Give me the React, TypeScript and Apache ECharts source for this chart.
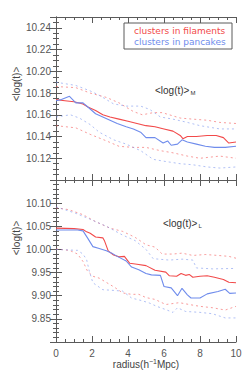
import React, { useEffect, useRef } from "react";
import * as echarts from "echarts";

// ---- data ----
const xTicks = [0, 2, 4, 6, 8, 10];

const topRedMean = [[0,10.174],[0.5,10.173],[1,10.172],[1.5,10.170],[1.8,10.167],[2.2,10.164],[2.6,10.160],[3,10.158],[3.5,10.156],[4,10.154],[4.5,10.152],[5,10.150],[5.5,10.149],[6,10.147],[6.5,10.145],[6.9,10.141],[7.05,10.138],[7.3,10.140],[7.8,10.140],[8.4,10.141],[8.9,10.141],[9.3,10.139],[9.6,10.134],[10,10.135]];
const topBlueMean = [[0,10.173],[0.3,10.174],[0.75,10.177],[1.1,10.171],[1.5,10.171],[1.85,10.166],[2.2,10.161],[2.6,10.158],[3,10.155],[3.4,10.152],[3.9,10.149],[4.3,10.147],[4.7,10.144],[5,10.139],[5.5,10.139],[5.95,10.134],[6.2,10.136],[6.4,10.132],[6.75,10.133],[7.0,10.137],[7.3,10.135],[7.8,10.133],[8.3,10.131],[8.8,10.130],[9.4,10.130],[10,10.131]];
const topRedUpper = [[0,10.186],[1.1,10.185],[1.9,10.180],[2.8,10.176],[3.5,10.171],[4.3,10.163],[4.8,10.160],[5.4,10.162],[5.9,10.162],[6.9,10.157],[7.6,10.156],[8.4,10.155],[9.1,10.153],[10,10.152]];
const topBlueUpper = [[0,10.190],[1.1,10.187],[1.9,10.182],[2.4,10.178],[3.2,10.170],[3.9,10.168],[4.7,10.168],[5.2,10.165],[5.8,10.158],[6.5,10.156],[7.3,10.153],[8,10.150],[9.1,10.147],[10,10.147]];
const topRedLower = [[0,10.150],[1.1,10.148],[1.9,10.142],[2.8,10.136],[3.5,10.131],[4.3,10.130],[5,10.130],[5.8,10.127],[6.5,10.125],[7.3,10.122],[8,10.120],[9.1,10.122],[10,10.120]];
const topBlueLower = [[0,10.158],[0.8,10.160],[1.3,10.157],[1.9,10.151],[2.4,10.144],[3.2,10.137],[3.9,10.133],[4.7,10.127],[5.4,10.119],[6.1,10.117],[6.9,10.115],[7.6,10.114],[8.4,10.112],[9.1,10.111],[10,10.112]];

const botRedMean = [[0,10.046],[1,10.045],[1.5,10.043],[1.7,10.038],[1.9,10.035],[2.2,10.027],[2.6,10.025],[2.7,10.018],[2.9,9.997],[3.2,9.988],[3.5,9.984],[3.8,9.985],[4.1,9.970],[4.5,9.968],[5,9.965],[5.5,9.955],[6.1,9.951],[6.3,9.943],[6.7,9.942],[6.95,9.948],[7.2,9.944],[7.4,9.946],[7.6,9.940],[8,9.942],[8.4,9.943],[8.8,9.940],[9.3,9.935],[9.6,9.929],[10,9.928]];
const botBlueMean = [[0,10.042],[1.2,10.042],[1.5,10.040],[1.75,10.025],[2.05,10.006],[2.4,10.002],[2.8,9.997],[3.1,9.992],[3.4,9.985],[3.9,9.975],[4.2,9.962],[4.6,9.956],[5,9.948],[5.3,9.945],[5.8,9.944],[6,9.920],[6.4,9.917],[6.75,9.900],[7.0,9.916],[7.3,9.902],[7.5,9.895],[8,9.895],[8.4,9.904],[9,9.909],[9.4,9.914],[9.65,9.905],[10,9.906]];
const botRedUpper = [[0,10.090],[0.7,10.086],[1.5,10.075],[2.2,10.060],[3,10.046],[3.7,10.039],[4.4,10.026],[5,10.010],[5.5,10.005],[5.9,9.990],[6.5,9.990],[7,9.992],[7.6,9.987],[8.3,9.989],[9,9.987],[9.6,9.985],[10,9.981]];
const botBlueUpper = [[0,10.092],[1.1,10.078],[1.85,10.066],[2.8,10.050],[3.7,10.031],[4.4,10.019],[5,10.000],[5.4,9.980],[6.3,9.977],[7,9.979],[7.6,9.977],[7.8,9.960],[8.7,9.958],[10,9.959]];
const botRedLower = [[0,10.001],[0.75,9.998],[1.2,9.990],[1.5,9.974],[1.75,9.953],[2.05,9.942],[2.4,9.938],[3,9.924],[3.3,9.917],[3.7,9.906],[4.2,9.903],[4.6,9.903],[5,9.896],[5.5,9.892],[6.1,9.881],[6.85,9.885],[7.4,9.881],[8,9.877],[8.7,9.874],[9.4,9.869],[10,9.877]];
const botBlueLower = [[0,10.000],[1.2,9.998],[1.5,9.990],[1.7,9.978],[1.85,9.953],[2.05,9.928],[2.6,9.913],[3,9.912],[3.7,9.910],[4.2,9.895],[4.8,9.889],[5.2,9.884],[5.6,9.877],[6.1,9.870],[6.5,9.864],[6.75,9.874],[7.2,9.866],[8,9.864],[8.7,9.861],[9.4,9.852],[10,9.852]];

const legendLabels = ["clusters in filaments", "clusters in pancakes"];

const RED = "#f24a4a";
const BLUE = "#6f8cec";
const AX = "#5a5a5a";
const FONT = "Liberation Sans";
const WIDE = "DejaVu Sans";

function xAxis(gridIndex: number, labels: boolean) {
  return {
    type: "value", gridIndex, min: 0, max: 10, interval: xTicks[1] - xTicks[0],
    position: "bottom",
    axisLine: { show: true, lineStyle: { color: AX, width: 1 } },
    axisTick: { show: true, inside: true, length: 6, lineStyle: { color: AX } },
    minorTick: { show: true, splitNumber: 4, length: 3, lineStyle: { color: AX } },
    axisLabel: { show: labels, color: "#555", fontSize: 10, fontFamily: FONT, margin: 6 },
    splitLine: { show: false },
  };
}
function xAxisTop(gridIndex: number) {
  return { ...xAxis(gridIndex, false), position: "top" };
}
function yAxis(gridIndex: number, min: number, max: number, interval: number, minor: number, right: boolean) {
  return {
    type: "value", gridIndex, min, max, interval,
    position: right ? "right" : "left",
    axisLine: { show: true, lineStyle: { color: AX, width: 1 } },
    axisTick: { show: true, inside: true, length: 6, lineStyle: { color: AX } },
    minorTick: { show: true, splitNumber: minor, length: 3, lineStyle: { color: AX } },
    axisLabel: {
      show: !right, color: "#555", fontSize: 10, fontFamily: FONT, margin: 5,
      showMinLabel: false, showMaxLabel: false,
      formatter: (v: number) => v.toFixed(2),
    },
    splitLine: { show: false },
  };
}

function line(data: number[][], color: string, dotted: boolean, xi: number, yi: number) {
  return {
    type: "line", data, xAxisIndex: xi, yAxisIndex: yi, showSymbol: false, symbol: "none",
    lineStyle: dotted
      ? { color, width: 1, type: [2, 3], opacity: 0.55 }
      : { color, width: 1.1 },
    z: dotted ? 2 : 3,
  };
}

export default function App() {
  const ref = useRef<HTMLDivElement>(null);
  useEffect(() => {
    const chart = echarts.init(ref.current!, null, { renderer: "svg" });
    chart.setOption({
      animation: false,
      backgroundColor: "#fff",
      grid: [
        { left: 56, top: 17, width: 180, height: 163 },
        { left: 56, top: 180, width: 180, height: 162 },
      ],
      xAxis: [xAxis(0, false), xAxisTop(0), xAxis(1, true), xAxisTop(1)],
      yAxis: [
        yAxis(0, 10.1, 10.25, 0.02, 4, false),
        yAxis(0, 10.1, 10.25, 0.02, 4, true),
        yAxis(1, 9.8, 10.15, 0.05, 5, false),
        yAxis(1, 9.8, 10.15, 0.05, 5, true),
      ],
      series: [
        line(topRedUpper, RED, true, 0, 0),
        line(topRedLower, RED, true, 0, 0),
        line(topBlueUpper, BLUE, true, 0, 0),
        line(topBlueLower, BLUE, true, 0, 0),
        line(topRedMean, RED, false, 0, 0),
        line(topBlueMean, BLUE, false, 0, 0),
        line(botRedUpper, RED, true, 2, 2),
        line(botRedLower, RED, true, 2, 2),
        line(botBlueUpper, BLUE, true, 2, 2),
        line(botBlueLower, BLUE, true, 2, 2),
        line(botRedMean, RED, false, 2, 2),
        line(botBlueMean, BLUE, false, 2, 2),
      ],
      graphic: [
        { type: "rect", shape: { x: 124, y: 23, width: 108, height: 26 }, style: { fill: "none", stroke: AX, lineWidth: 1 }, z: 10 },
        { type: "text", x: 134, y: 31, style: { text: legendLabels[0], fill: RED, fontSize: 9, fontFamily: WIDE, verticalAlign: "middle" }, z: 10 },
        { type: "text", x: 134, y: 42, style: { text: legendLabels[1], fill: BLUE, fontSize: 9, fontFamily: WIDE, verticalAlign: "middle" }, z: 10 },
        {
          type: "text", x: 155, y: 90,
          style: {
            text: "<log(t)>{s|M}", fill: "#333", fontSize: 10, fontFamily: FONT, verticalAlign: "middle",
            rich: { s: { fontSize: 6, fontFamily: FONT, fill: "#333", padding: [6, 0, 0, 1] } },
          },
          z: 10,
        },
        {
          type: "text", x: 163, y: 223,
          style: {
            text: "<log(t)>{s|L}", fill: "#333", fontSize: 10, fontFamily: FONT, verticalAlign: "middle",
            rich: { s: { fontSize: 6, fontFamily: FONT, fill: "#333", padding: [6, 0, 0, 1] } },
          },
          z: 10,
        },
        { type: "text", x: 16, y: 84, rotation: Math.PI / 2, style: { text: "<log(t)>", fill: "#444", fontSize: 10, fontFamily: FONT, align: "center", verticalAlign: "middle" } },
        { type: "text", x: 16, y: 238, rotation: Math.PI / 2, style: { text: "<log(t)>", fill: "#444", fontSize: 10, fontFamily: FONT, align: "center", verticalAlign: "middle" } },
        {
          type: "text", x: 146, y: 364,
          style: {
            text: "radius(h{sup|−1}Mpc)", fill: "#444", fontSize: 10, fontFamily: FONT, align: "center", verticalAlign: "middle",
            rich: { sup: { fontSize: 7, fontFamily: FONT, fill: "#444", padding: [0, 0, 6, 0] } },
          },
        },
      ],
    });
    return () => chart.dispose();
  }, []);
  return <div ref={ref} style={{ position: "fixed", left: 0, top: 0, width: 252, height: 378 }} />;
}
